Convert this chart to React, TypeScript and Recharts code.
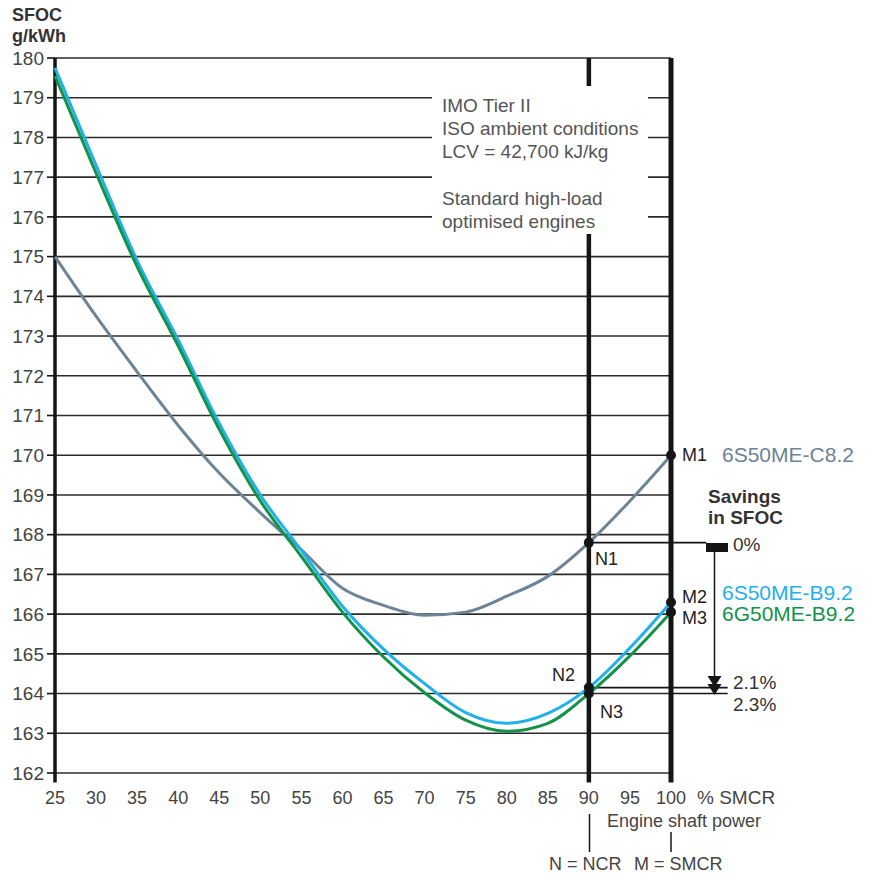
import React from 'react'
import { LineChart, Line, XAxis, YAxis, CartesianGrid, ReferenceLine, ReferenceDot } from 'recharts'

// engine load, % SMCR
const loadPct = [25, 30, 35, 40, 45, 50, 55, 60, 65, 70, 75, 80, 85, 90, 95, 100]

// SFOC g/kWh
const sfocS50C82 = [175.0, 173.5, 172.1, 170.75, 169.55, 168.55, 167.62, 166.65, 166.22, 165.97, 166.05, 166.45, 166.95, 167.8, 168.85, 170.0]
const sfocS50B92 = [179.75, 177.3, 174.9, 172.9, 170.8, 169.0, 167.6, 166.2, 165.12, 164.25, 163.52, 163.25, 163.5, 164.15, 165.15, 166.3]
const sfocG50B92 = [179.55, 177.1, 174.75, 172.75, 170.65, 168.85, 167.45, 166.05, 164.92, 164.02, 163.33, 163.05, 163.25, 164.0, 164.95, 166.05]

const yTicks = [162, 163, 164, 165, 166, 167, 168, 169, 170, 171, 172, 173, 174, 175, 176, 177, 178, 179, 180]
const xTicks = loadPct

const boxLines = ['IMO Tier II', 'ISO ambient conditions', 'LCV = 42,700 kJ/kg', '', 'Standard high-load', 'optimised engines']

const GRAY = '#6d8396'
const BLUE = '#1fb1ec'
const GREEN = '#13924a'
const INK = '#151515'
const FONT = '"Liberation Sans", Arial, Helvetica, sans-serif'

const data = loadPct.map((p, i) => ({ p, c82: sfocS50C82[i], s92: sfocS50B92[i], g92: sfocG50B92[i] }))

const iN = loadPct.indexOf(90)
const iM = loadPct.indexOf(100)

function Txt({ x, y, size = 19, color = '#333', weight = 'normal', children }: any) {
  const lh = size * 1.05
  return (
    <div style={{
      position: 'absolute', left: x, top: y - lh / 2, lineHeight: `${lh}px`, fontSize: size,
      color, fontWeight: weight, whiteSpace: 'nowrap', fontFamily: FONT,
    }}>{children}</div>
  )
}

export default function App() {
  return (
    <div style={{ position: 'absolute', left: 0, top: 0, width: 869, height: 876, background: '#fff', overflow: 'hidden' }}>
      <LineChart width={869} height={876} data={data} margin={{ top: 58, right: 198, bottom: 73, left: 10 }} style={{ fontFamily: FONT }}>
        <CartesianGrid vertical={false} stroke={INK} strokeWidth={1.6} strokeOpacity={0.9} />
        <XAxis dataKey="p" type="number" domain={[25, 100]} ticks={xTicks} axisLine={false} tickLine={false}
          tickSize={8} tickMargin={10} height={30} tick={{ fontSize: 18, fill: '#444' }} interval={0} />
        <YAxis type="number" domain={[162, 180]} ticks={yTicks} axisLine={false} width={45}
          tickLine={{ stroke: INK, strokeWidth: 1.6 }} tickSize={8} tickMargin={3} tick={{ fontSize: 19, fill: '#444' }} interval={0} />

        {/* axis + NCR / SMCR verticals */}
        <ReferenceLine segment={[{ x: 25, y: 180 }, { x: 25, y: 161.76 }]} stroke={INK} strokeWidth={3.5} ifOverflow="visible" />
        <ReferenceLine segment={[{ x: 90, y: 180 }, { x: 90, y: 161.76 }]} stroke={INK} strokeWidth={4.5} ifOverflow="visible" />
        <ReferenceLine segment={[{ x: 100, y: 180 }, { x: 100, y: 161.76 }]} stroke={INK} strokeWidth={5} ifOverflow="visible" />

        {/* savings reference lines */}
        <ReferenceLine segment={[{ x: 90, y: sfocS50C82[iN] }, { x: 104.3, y: sfocS50C82[iN] }]} stroke={INK} strokeWidth={1.6} ifOverflow="visible" />
        <ReferenceLine segment={[{ x: 90, y: sfocS50B92[iN] }, { x: 106.9, y: sfocS50B92[iN] }]} stroke={INK} strokeWidth={1.6} ifOverflow="visible" />
        <ReferenceLine segment={[{ x: 100, y: sfocG50B92[iN] }, { x: 106.9, y: sfocG50B92[iN] }]} stroke={INK} strokeWidth={1.6} ifOverflow="visible" />

        <Line type="monotone" dataKey="c82" stroke={GRAY} strokeWidth={3} dot={false} isAnimationActive={false} />
        <Line type="monotone" dataKey="s92" stroke={BLUE} strokeWidth={3} dot={false} isAnimationActive={false} />
        <Line type="monotone" dataKey="g92" stroke={GREEN} strokeWidth={3} dot={false} isAnimationActive={false} />

        <ReferenceDot x={90} y={sfocS50C82[iN]} r={5} fill={INK} stroke="none" />
        <ReferenceDot x={90} y={sfocS50B92[iN]} r={5} fill={INK} stroke="none" />
        <ReferenceDot x={90} y={sfocG50B92[iN]} r={5} fill={INK} stroke="none" />
        <ReferenceDot x={100} y={sfocS50C82[iM]} r={5} fill={INK} stroke="none" ifOverflow="visible" />
        <ReferenceDot x={100} y={sfocS50B92[iM]} r={5} fill={INK} stroke="none" ifOverflow="visible" />
        <ReferenceDot x={100} y={sfocG50B92[iM]} r={5} fill={INK} stroke="none" ifOverflow="visible" />
      </LineChart>

      {/* notes box */}
      <div style={{ position: 'absolute', left: 432, top: 86, width: 216, height: 148, background: '#fff' }} />
      {boxLines.map((t, i) => (t ? <Txt key={i} x={442} y={106 + i * 23.2} color="#555">{t}</Txt> : null))}

      {/* savings arrow, footnote ticks */}
      <svg width={869} height={876} style={{ position: 'absolute', left: 0, top: 0, pointerEvents: 'none' }}>
        <rect x={706} y={543} width={22} height={9} fill={INK} />
        <line x1={714.5} y1={552} x2={714.5} y2={680} stroke={INK} strokeWidth={1.5} />
        <polygon points="707.5,676 721.5,676 714.5,687" fill={INK} />
        <polygon points="707.5,684 721.5,684 714.5,695" fill={INK} />
        <line x1={589.5} y1={814} x2={589.5} y2={852} stroke={INK} strokeWidth={1.5} />
        <line x1={671} y1={832} x2={671} y2={852} stroke={INK} strokeWidth={1.5} />
      </svg>

      <Txt x={12} y={15} size={18} weight="bold" color="#333">SFOC</Txt>
      <Txt x={12} y={36} size={18} weight="bold" color="#333">g/kWh</Txt>

      <Txt x={682} y={455} size={18} color="#222">M1</Txt>
      <Txt x={722} y={455} size={21} color={GRAY}>6S50ME-C8.2</Txt>
      <Txt x={708} y={497} size={19} weight="bold" color="#333">Savings</Txt>
      <Txt x={708} y={518} size={19} weight="bold" color="#333">in SFOC</Txt>
      <Txt x={733} y={545} size={19} color="#333">0%</Txt>
      <Txt x={595} y={559} size={18} color="#222">N1</Txt>
      <Txt x={682} y={597} size={18} color="#222">M2</Txt>
      <Txt x={682} y={618} size={18} color="#222">M3</Txt>
      <Txt x={722} y={593} size={21} color={BLUE}>6S50ME-B9.2</Txt>
      <Txt x={722} y={614} size={21} color={GREEN}>6G50ME-B9.2</Txt>
      <Txt x={552} y={675} size={18} color="#222">N2</Txt>
      <Txt x={600} y={712} size={18} color="#222">N3</Txt>
      <Txt x={733} y={683} size={19} color="#333">2.1%</Txt>
      <Txt x={733} y={705} size={19} color="#333">2.3%</Txt>

      <Txt x={697} y={798} size={19} color="#444">% SMCR</Txt>
      <Txt x={607} y={821} size={18} color="#444">Engine shaft power</Txt>
      <Txt x={549} y={864} size={18} color="#444">N = NCR</Txt>
      <Txt x={634} y={864} size={18} color="#444">M = SMCR</Txt>
    </div>
  )
}
